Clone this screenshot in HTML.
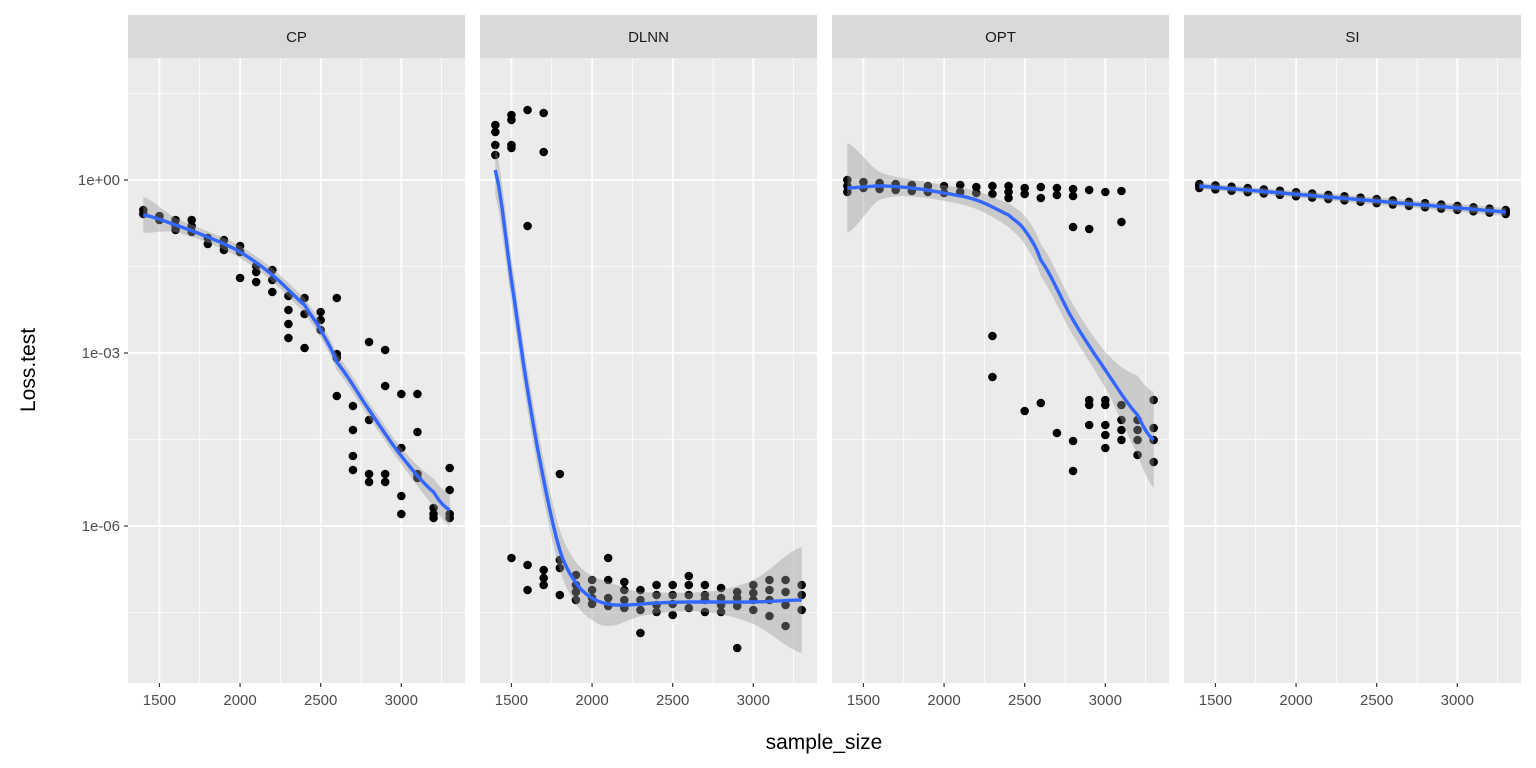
<!DOCTYPE html>
<html><head><meta charset="utf-8"><style>body{margin:0;background:#fff}svg{display:block}text{font-family:"Liberation Sans",Arial,sans-serif}</style></head>
<body>
<svg id="s" width="1536" height="768" xmlns="http://www.w3.org/2000/svg"></svg>
<script>
const S=document.getElementById('s');let h='';
const panels=[{n:'CP',x0:128},{n:'DLNN',x0:480},{n:'OPT',x0:832},{n:'SI',x0:1184}];
const W=337,T=58,B=683;
const X=(p,v)=>p.x0+(v-1305)*W/2090;
const yMaj=[180,353,526],yMin=[93.5,266.5,439.5,612.5];
const xs=[1500,2000,2500,3000],xm=[1750,2250,2750,3250];
function interp(pts,x){const n=pts.length;for(let i=0;i<n-1;i++){if(x>=pts[i][0]&&x<=pts[i+1][0]){const t=(x-pts[i][0])/(pts[i+1][0]-pts[i][0]);
 if(n<3)return pts[i][1]+t*(pts[i+1][1]-pts[i][1]);
 const p0=pts[Math.max(i-1,0)][1],p1=pts[i][1],p2=pts[i+1][1],p3=pts[Math.min(i+2,n-1)][1];
 const t2=t*t,t3=t2*t;return 0.5*((2*p1)+(-p0+p2)*t+(2*p0-5*p1+4*p2-p3)*t2+(-p0+3*p1-3*p2+p3)*t3);}}return pts[n-1][1];}
const data={
CP:{pts:{1400:[210,214],1500:[216,220],1600:[220,226,230],1700:[220,226,232],1800:[238,244],1900:[240,246,250],2000:[246,252,278],2100:[266,272,282],2200:[270,280,292],2300:[296,310,324,338],2400:[298,314,348],2500:[312,320,330],2600:[298,354,358,396],2700:[406,430,456,470],2800:[342,420,474,482],2900:[350,386,474,482],3000:[394,448,496,514],3100:[394,432,474,478],3200:[508,514,518],3300:[468,490,514,518]},
sm:[[1400,215],[1600,225],[1800,237],[2000,252],[2200,275],[2400,305],[2500,330],[2600,362],[2800,410],[3000,456],[3200,492],[3300,510]],
rw:[[1400,18],[1600,7],[2000,6],[2600,8],[3000,8],[3300,16]]},
DLNN:{pts:{1400:[125,132,145,155],1500:[115,120,145,148,558],1600:[110,226,565,590],1700:[113,152,570,578,585],1800:[474,560,568,595],1900:[575,585,592,600],2000:[580,590,598,604],2100:[558,580,598,606],2200:[582,590,600,608],2300:[590,600,610,633],2400:[585,595,605,612],2500:[585,595,604,615],2600:[576,585,595,608],2700:[585,595,600,612],2800:[588,598,605,612],2900:[592,598,606,648],3000:[585,593,600,610],3100:[580,590,600,616],3200:[580,592,605,626],3300:[585,595,610]},
sm:[[1400,170],[1500,280],[1600,390],[1700,480],[1800,550],[1900,583],[2000,598],[2100,604],[2200,605],[2400,603],[2600,602],[3000,602],[3300,600]],
rw:[[1400,25],[1600,20],[1800,20],[2000,22],[2100,22],[2300,12],[2700,10],[3000,22],[3300,53]]},
OPT:{pts:{1400:[180,186,192],1500:[182,188],1600:[183,189],1700:[184,190],1800:[185,191],1900:[186,192],2000:[186,193],2100:[185,192],2200:[187,193],2300:[186,194,336,377],2400:[186,192,198],2500:[188,194,411],2600:[187,198,403],2700:[188,195,433],2800:[189,196,227,441,471],2900:[190,229,400,405,425],3000:[192,400,405,425,435,448],3100:[191,222,405,420,430,440],3200:[420,430,440,455],3300:[400,428,440,462]},
sm:[[1400,188],[1600,186],[1800,188],[2000,193],[2200,200],[2400,215],[2500,230],[2600,260],[2800,320],[3000,370],[3200,415],[3300,440]],
rw:[[1400,45],[1600,14],[1900,8],[2300,10],[2600,16],[3000,18],[3300,48]]},
SI:{pts:{},sm:[[1400,186],[3300,212]],rw:[[1400,3],[3300,4]]}};
for(let n=1400;n<=3300;n+=100){const c=186+(n-1400)*26/1900;data.SI.pts[n]=[c-2,c,c+2];}
panels.forEach(p=>{
 h+=`<rect x="${p.x0}" y="15" width="${W}" height="43" fill="#d9d9d9"/>`;
 h+=`<text x="${p.x0+W/2}" y="42" font-size="15" fill="#1a1a1a" text-anchor="middle">${p.n}</text>`;
 h+=`<rect x="${p.x0}" y="${T}" width="${W}" height="${B-T}" fill="#ebebeb"/>`;
 yMin.forEach(y=>h+=`<line x1="${p.x0}" x2="${p.x0+W}" y1="${y}" y2="${y}" stroke="#fff" stroke-width="0.8"/>`);
 xm.forEach(v=>h+=`<line x1="${X(p,v)}" x2="${X(p,v)}" y1="${T}" y2="${B}" stroke="#fff" stroke-width="0.8"/>`);
 yMaj.forEach(y=>h+=`<line x1="${p.x0}" x2="${p.x0+W}" y1="${y}" y2="${y}" stroke="#fff" stroke-width="1.7"/>`);
 xs.forEach(v=>{h+=`<line x1="${X(p,v)}" x2="${X(p,v)}" y1="${T}" y2="${B}" stroke="#fff" stroke-width="1.7"/>`;
  h+=`<line x1="${X(p,v)}" x2="${X(p,v)}" y1="${B}" y2="${B+4}" stroke="#333" stroke-width="1.2"/>`;
  h+=`<text x="${X(p,v)}" y="${B+22}" font-size="15" fill="#4d4d4d" text-anchor="middle">${v}</text>`;});
 const d=data[p.n];
 for(const k in d.pts)d.pts[k].forEach(y=>h+=`<circle cx="${X(p,+k)}" cy="${y}" r="4.3" fill="#000"/>`);
 let up=[],lo=[];for(let v=1400;v<=3300;v+=20){const y=interp(d.sm,v),w=interp(d.rw,v);up.push(`${X(p,v).toFixed(1)},${(y-w).toFixed(1)}`);lo.unshift(`${X(p,v).toFixed(1)},${(y+w).toFixed(1)}`);}
 h+=`<polygon points="${up.concat(lo).join(' ')}" fill="#999" fill-opacity="0.4"/>`;
 let ln=[];for(let v=1400;v<=3300;v+=20)ln.push(`${X(p,v).toFixed(1)},${interp(d.sm,v).toFixed(1)}`);
 h+=`<polyline points="${ln.join(' ')}" fill="none" stroke="#3366ff" stroke-width="3.4" stroke-linejoin="round"/>`;
});
['1e+00','1e-03','1e-06'].forEach((t,i)=>{h+=`<line x1="124" x2="128" y1="${yMaj[i]}" y2="${yMaj[i]}" stroke="#333" stroke-width="1.2"/>`;
 h+=`<text x="120" y="${yMaj[i]+5}" font-size="15" fill="#4d4d4d" text-anchor="end">${t}</text>`;});
h+=`<text x="824" y="749" font-size="21" fill="#000" text-anchor="middle">sample_size</text>`;
h+=`<text transform="translate(35,370) rotate(-90)" font-size="21" fill="#000" text-anchor="middle">Loss.test</text>`;
S.innerHTML=h;
</script>
</body></html>
